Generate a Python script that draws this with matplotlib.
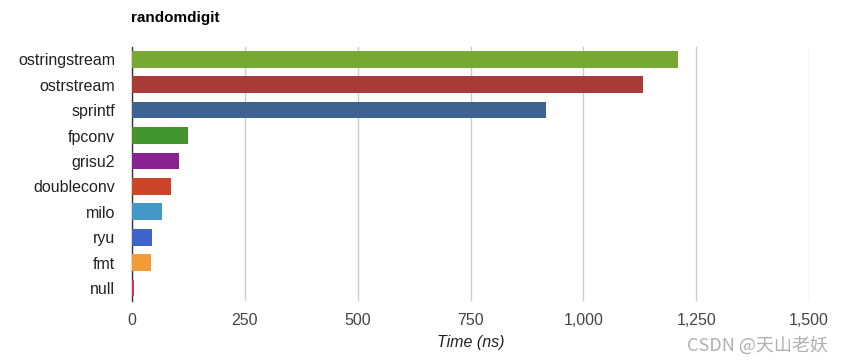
import matplotlib
matplotlib.use("Agg")
import matplotlib.pyplot as plt

# data
names = ['ostringstream', 'ostrstream', 'sprintf', 'fpconv', 'grisu2',
         'doubleconv', 'milo', 'ryu', 'fmt', 'null']
times = [1210, 1133, 918, 123, 104, 86, 67, 45, 43, 5]
colors = ['#76a832', '#a83a37', '#3d6391', '#43962f', '#8a2192',
          '#cc4528', '#4398c6', '#3f63c8', '#f19c38', '#d6336c']
xticks = [0, 250, 500, 750, 1000, 1250, 1500]
xticklabels = ['0', '250', '500', '750', '1,000', '1,250', '1,500']

plt.rcParams['font.family'] = ['Liberation Sans', 'DejaVu Sans']

fig = plt.figure(figsize=(8.43, 3.64), dpi=100)
ax = fig.add_axes([0.1566, 0.174, 0.8031, 0.698])

pos = list(range(len(names)))
ax.barh(pos, times, height=0.66, color=colors, zorder=3)
ax.set_ylim(len(names) - 0.5, -0.5)
ax.set_xlim(0, 1500)

ax.set_yticks(pos)
ax.set_yticklabels(names, fontsize=11.5, color='#222222')
ax.set_xticks(xticks)
ax.set_xticklabels(xticklabels, fontsize=11.5, color='#444444')
ax.tick_params(length=0)
ax.tick_params(axis='y', pad=12)
ax.tick_params(axis='x', pad=9)

ax.grid(axis='x', color='#cccccc', linewidth=1, zorder=0)
for s in ['top', 'right', 'bottom']:
    ax.spines[s].set_visible(False)
ax.spines['left'].set_color('#333333')
ax.spines['left'].set_linewidth(1)
ax.spines['left'].set_zorder(2)

ax.set_xlabel('Time (ns)', fontsize=11.5, style='italic', color='#222222', labelpad=5)

fig.text(0.1556, 0.95, 'randomdigit', fontsize=11, fontweight='bold',
         ha='left', va='center', color='#000000')

fig.text(0.982, 0.05, 'CSDN @天山老妖', fontsize=13, color='#b0b0b0',
         ha='right', va='center',
         family=['Noto Sans CJK SC', 'DejaVu Sans'])

fig.savefig('out.png', dpi=100)
